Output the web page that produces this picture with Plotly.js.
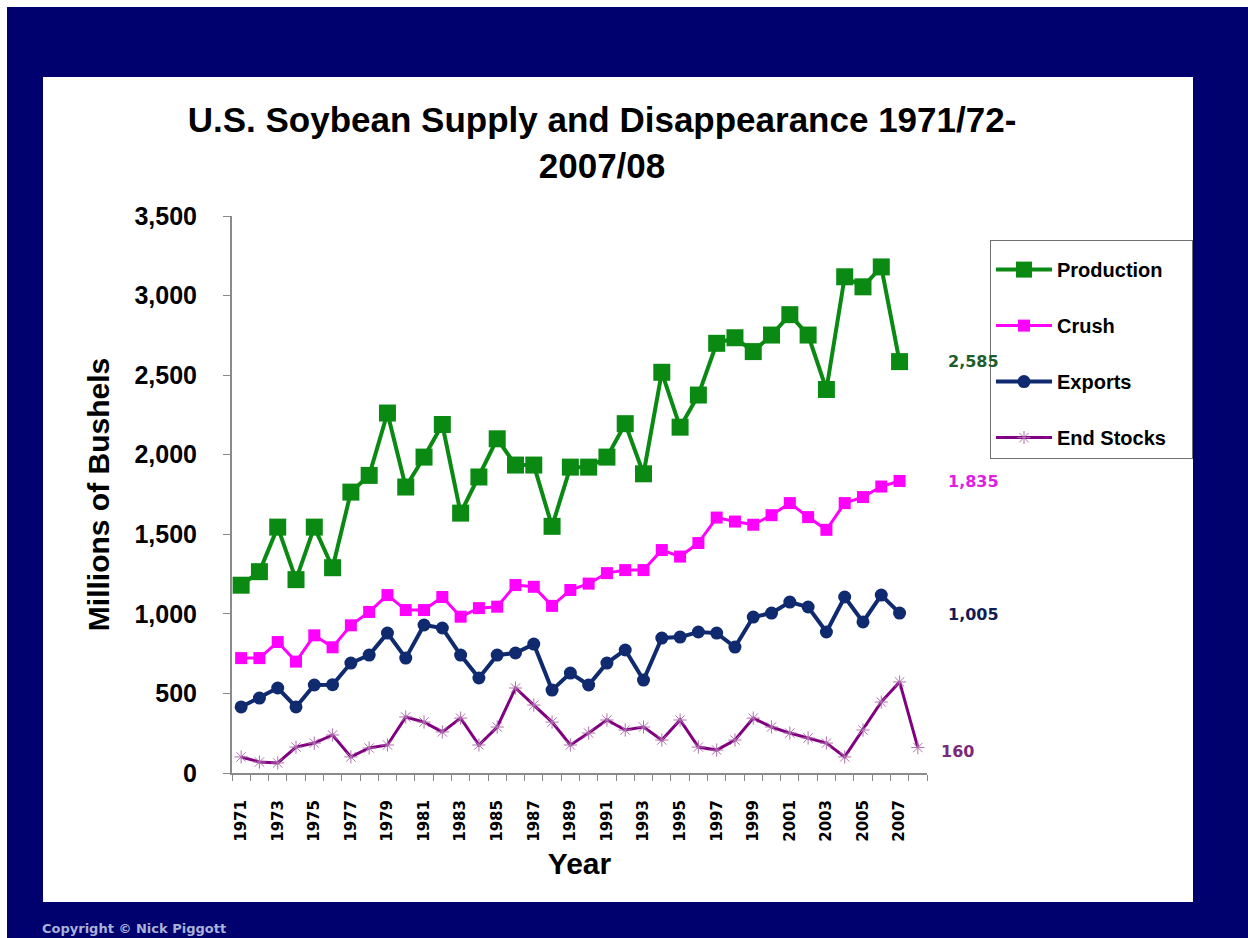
<!DOCTYPE html>
<html>
<head>
<meta charset="utf-8">
<script src="https://cdn.plot.ly/plotly-3.0.1.min.js"></script>
<style>
  html, body { margin: 0; padding: 0; background: #ffffff; width: 1248px; height: 938px; overflow: hidden; }
  #chart { position: absolute; left: 7px; top: 7px; width: 1241px; height: 931px; }
</style>
</head>
<body>
<div id="chart"></div>
<script>
// ---- data (millions of bushels) ----
const years = [1971,1972,1973,1974,1975,1976,1977,1978,1979,1980,1981,1982,1983,1984,1985,1986,1987,1988,1989,1990,
               1991,1992,1993,1994,1995,1996,1997,1998,1999,2000,2001,2002,2003,2004,2005,2006,2007,2008];
const production = [1180,1265,1545,1215,1545,1290,1765,1870,2262,1797,1985,2190,1633,1860,2100,1935,1935,1550,1922,1922,
                    1985,2195,1880,2518,2173,2375,2700,2735,2648,2752,2880,2752,2410,3118,3055,3180,2585];
const crush = [722,722,823,700,865,790,928,1012,1118,1024,1024,1106,982,1036,1045,1181,1170,1050,1150,1190,
               1256,1275,1275,1401,1360,1445,1605,1580,1560,1620,1696,1608,1528,1696,1734,1800,1835];
const exportsVals = [415,471,534,415,553,555,691,741,879,722,930,911,741,597,741,754,810,521,628,553,
                     691,773,584,848,854,886,879,791,980,1005,1074,1043,886,1106,949,1118,1005];
const endStocks = [101,69,63,163,188,239,101,157,176,352,320,258,345,176,289,534,427,320,176,251,
                   333,270,289,207,333,163,144,207,345,289,251,220,188,101,270,446,572,160];
const tickYears = [1971,1973,1975,1977,1979,1981,1983,1985,1987,1989,1991,1993,1995,1997,1999,2001,2003,2005,2007];
const tickLabels = ["1971","1973","1975","1977","1979","1981","1983","1985","1987","1989",
                    "1991","1993","1995","1997","1999","2001","2003","2005","2007"];
const seriesNames = ["Production","Crush","Exports","End Stocks"];
const endLabels = ["2,585","1,835","1,005","160"];

// ---- styles ----
const C = { prod: "#0a8a12", crush: "#ff00ff", exp: "#0f2a6e", stocks: "#800080" };
const LBL = { prod: "#1d5e2c", crush: "#e020e0", exp: "#121c55", stocks: "#7a2a7a" };
const sans = "Liberation Sans, Arial, sans-serif";
const wide = "DejaVu Sans, sans-serif";

const n = production.length;
const traces = [
  { x: years.slice(0, n), y: production, name: seriesNames[0], legendgroup: "a", mode: "lines+markers",
    line: { color: C.prod, width: 4 }, marker: { symbol: "square", size: 17, color: C.prod } },
  { x: years.slice(0, crush.length), y: crush, name: seriesNames[1], legendgroup: "b", mode: "lines+markers",
    line: { color: C.crush, width: 3 }, marker: { symbol: "square", size: 12, color: C.crush } },
  { x: years.slice(0, exportsVals.length), y: exportsVals, name: seriesNames[2], legendgroup: "c", mode: "lines+markers",
    line: { color: C.exp, width: 4 }, marker: { symbol: "circle", size: 13, color: C.exp } },
  { x: years.slice(0, endStocks.length), y: endStocks, name: seriesNames[3], legendgroup: "d", mode: "lines+markers",
    line: { color: C.stocks, width: 3 }, marker: { symbol: "asterisk-open", size: 11, color: "#b070b0", line: { color: "#b070b0", width: 1 } } }
];

// pixel helpers (page px -> paper coords); plot area spans x 232..927, y 216..773
const PX0 = 232, PX1 = 927, PY0 = 216, PY1 = 773;
const px = v => (v - PX0) / (PX1 - PX0);
const py = v => (PY1 - v) / (PY1 - PY0);

const lastIdx = (arr) => arr.length - 1;
const annotations = [
  { x: years[lastIdx(production)], y: production[lastIdx(production)], text: endLabels[0], color: LBL.prod, xs: 46, ys: 0 },
  { x: years[lastIdx(crush)], y: crush[lastIdx(crush)], text: endLabels[1], color: LBL.crush, xs: 46, ys: -1 },
  { x: years[lastIdx(exportsVals)], y: exportsVals[lastIdx(exportsVals)], text: endLabels[2], color: LBL.exp, xs: 46, ys: -1 },
  { x: years[lastIdx(endStocks)], y: endStocks[lastIdx(endStocks)], text: endLabels[3], color: LBL.stocks, xs: 21, ys: -4 }
].map(a => ({ x: a.x, y: a.y, xref: "x", yref: "y", text: a.text, showarrow: false, xanchor: "left", yanchor: "middle",
              xshift: a.xs, yshift: a.ys, font: { family: wide, size: 16, color: a.color, weight: "bold" } }));

annotations.push({ xref: "paper", yref: "paper", x: px(40), y: py(928), xanchor: "left", yanchor: "middle",
  text: "Copyright © Nick Piggott", showarrow: false, font: { family: wide, size: 13, color: "#aab2d8", weight: "bold" } });

const spacer = "&nbsp;".repeat(101);

const layout = {
  width: 1241, height: 931,
  margin: { l: PX0 - 7, r: 1248 - PX1, t: PY0 - 7, b: 938 - PY1, pad: 0 },
  paper_bgcolor: "#00006e",
  plot_bgcolor: "#ffffff",
  showlegend: true,
  title: {
    text: "U.S. Soybean Supply and Disappearance 1971/72-<br>2007/08",
    font: { family: sans, size: 35, color: "#000000", weight: "bold" },
    xref: "paper", x: px(602), xanchor: "center",
    yref: "container", y: 1 - 125 / 931, yanchor: "top"
  },
  xaxis: {
    type: "linear", range: [1970.5, 2008.5], fixedrange: true,
    tickmode: "array", tickvals: tickYears, ticktext: tickLabels, tickangle: -90,
    ticks: "", ticklabelstandoff: 19,
    tickfont: { family: wide, size: 15, color: "#000000", weight: "bold" },
    minor: { tickmode: "linear", tick0: 1970.5, dtick: 1, ticks: "outside", ticklen: 6, tickwidth: 1, tickcolor: "#888888", showgrid: false },
    showline: true, linecolor: "#8a8a8a", linewidth: 2, showgrid: false, zeroline: false,
    title: { text: "Year", font: { family: sans, size: 30, color: "#000000", weight: "bold" }, standoff: 12 }
  },
  yaxis: {
    range: [0, 3500], tickmode: "linear", tick0: 0, dtick: 500, tickformat: ",d", fixedrange: true,
    ticks: "outside", ticklen: 7, tickwidth: 1, tickcolor: "#888888", ticklabelstandoff: 21,
    tickfont: { family: sans, size: 25, color: "#000000", weight: "bold" },
    showline: true, linecolor: "#8a8a8a", linewidth: 2, showgrid: false, zeroline: false,
    title: { text: "Millions of Bushels", font: { family: sans, size: 30, color: "#000000", weight: "bold" }, standoff: 16 }
  },
  legend: {
    xref: "paper", yref: "paper", x: px(990), y: py(240), xanchor: "left", yanchor: "top",
    bgcolor: "#ffffff", bordercolor: "#707070", borderwidth: 1,
    font: { family: sans, size: 20, color: "#000000", weight: "bold" },
    title: { text: spacer, font: { family: sans, size: 7 } },
    tracegroupgap: 27, itemwidth: 56
  },
  shapes: [
    { type: "rect", xref: "paper", yref: "paper", layer: "below",
      x0: px(43), x1: px(1193), y0: py(902), y1: py(77),
      fillcolor: "#ffffff", line: { width: 0 } }
  ],
  annotations: annotations
};

Plotly.newPlot("chart", traces, layout, { staticPlot: true, displayModeBar: false });
</script>
</body>
</html>
